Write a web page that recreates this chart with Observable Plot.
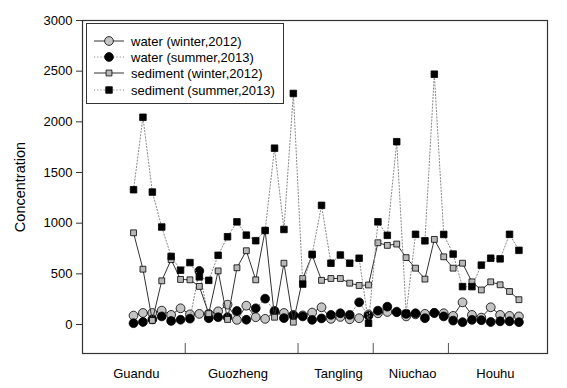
<!DOCTYPE html>
<html><head><meta charset="utf-8">
<script src="https://cdn.jsdelivr.net/npm/d3@7"></script>
<script src="https://cdn.jsdelivr.net/npm/@observablehq/plot@0.6"></script>
<style>
body{margin:0;background:#fff;font-family:"Liberation Sans",Arial,sans-serif;}
#wrap{position:relative;width:567px;height:388px;}
#legend{position:absolute;left:86px;top:23px;width:198px;height:81px;border:1px solid #333;background:#fff;box-sizing:border-box;}
#legend svg{position:absolute;left:0;top:0;}
</style></head><body><div id="wrap"></div>
<script>
// categories (sampling sites) and their tick positions (sample index units)
const sites = ["Guandu","Guozheng","Tangling","Niuchao","Houhu"];
const siteLabelPos = [0.3, 11.1, 21.8, 29.7, 38.5];
const siteSeparators = [5.5, 17.5, 25.5, 33.5];
const yTicks = [0, 500, 1000, 1500, 2000, 2500, 3000];

// series values (42 samples each)
const waterWinter = [88,114,114,137,95,160,100,105,105,130,
  196,46,186,72,56,121,114,95,90,118,
  170,56,75,52,62,100,111,124,127,80,
  100,105,114,111,85,219,95,68,170,95,85,80];
const waterSummer = [13,25,50,80,35,47,58,529,62,72,
  72,134,47,160,255,134,63,88,80,46,
  60,95,111,95,219,88,137,176,121,105,
  111,62,114,80,39,23,46,42,25,32,32,23];
const sedimentWinter = [905,546,40,431,640,445,441,376,108,529,
  50,560,728,441,928,72,605,23,454,685,
  436,454,454,408,385,390,807,781,794,660,
  556,448,840,668,556,605,421,341,421,392,326,245];
const sedimentSummer = [1330,2045,1307,962,672,536,611,470,436,683,
  866,1013,882,827,928,1740,938,2280,399,693,
  1176,605,686,605,654,13,1013,880,1804,110,
  890,826,2470,889,695,374,374,586,654,648,890,732];

const series = [
  {name:"water (winter,2012)", values:waterWinter, symbol:"circle", r:4.4, fill:"#c4c4c4", stroke:"#333", dash:null},
  {name:"water (summer,2013)", values:waterSummer, symbol:"circle", r:4.4, fill:"#000", stroke:"#888", dash:"1.2,2"},
  {name:"sediment (winter,2012)", values:sedimentWinter, symbol:"square", r:3.3, fill:"#b8b8b8", stroke:"#333", dash:null},
  {name:"sediment (summer,2013)", values:sedimentSummer, symbol:"square", r:3.7, fill:"#000", stroke:"#888", dash:"1.2,2"}
];

const marks = [];
for (const s of series) {
  const rows = s.values.map((v, i) => ({i, v}));
  marks.push(Plot.line(rows, {x:"i", y:"v", stroke:s.stroke, strokeWidth:1, strokeDasharray:s.dash}));
  marks.push(Plot.dot(rows, {x:"i", y:"v", symbol:s.symbol, r:s.r, fill:s.fill, stroke:"#000", strokeWidth:0.8}));
}

const chart = Plot.plot({
  width:567, height:388,
  marginLeft:82, marginRight:20, marginTop:20, marginBottom:35,
  x:{domain:[-5.43, 44.04], axis:null},
  y:{domain:[-286, 3000], axis:null},
  style:{fontFamily:"'Liberation Sans', Arial, sans-serif", fontSize:"13px", color:"#000", background:"#fff"},
  marks:[
    Plot.axisY(yTicks, {tickSize:6, tickPadding:4, fontSize:13, label:null, stroke:"#333", tickFormat:d => String(d)}),
    Plot.axisX(siteLabelPos, {tickSize:0, tickPadding:15, fontSize:13, label:null,
      tickFormat:d => sites[siteLabelPos.indexOf(d)]}),
    Plot.tickX(siteSeparators, {x:d => d, insetTop:323, stroke:"#555"}),
    ...marks,
    Plot.frame({stroke:"#333", strokeWidth:1.2}),
    Plot.text(["Concentration"], {text:d => d, frameAnchor:"left", textAnchor:"middle", rotate:-90, dx:-62, fontSize:14.5})
  ]
});
const wrap = document.getElementById("wrap");
wrap.appendChild(chart);

// legend box inside the plot area
const leg = document.createElement("div");
leg.id = "legend";
wrap.appendChild(leg);
const svg = d3.select(leg).append("svg").attr("width", 198).attr("height", 81);
const rowY = [17, 33, 49, 66];
series.forEach((s, k) => {
  const g = svg.append("g").attr("transform", `translate(0,${rowY[k]})`);
  g.append("line").attr("x1", 7).attr("x2", 37).attr("y1", 0).attr("y2", 0)
    .attr("stroke", s.stroke).attr("stroke-width", 1).attr("stroke-dasharray", s.dash);
  const sym = d3.symbol(s.symbol === "circle" ? d3.symbolCircle : d3.symbolSquare, Math.PI * s.r * s.r);
  g.append("path").attr("d", sym()).attr("transform", "translate(22,0)")
    .attr("fill", s.fill).attr("stroke", "#000").attr("stroke-width", 0.8);
  g.append("text").attr("x", 44).attr("y", 0).attr("dy", "0.35em")
    .attr("font-size", 13).attr("font-family", "'Liberation Sans', Arial, sans-serif").text(s.name);
});
</script></body></html>
